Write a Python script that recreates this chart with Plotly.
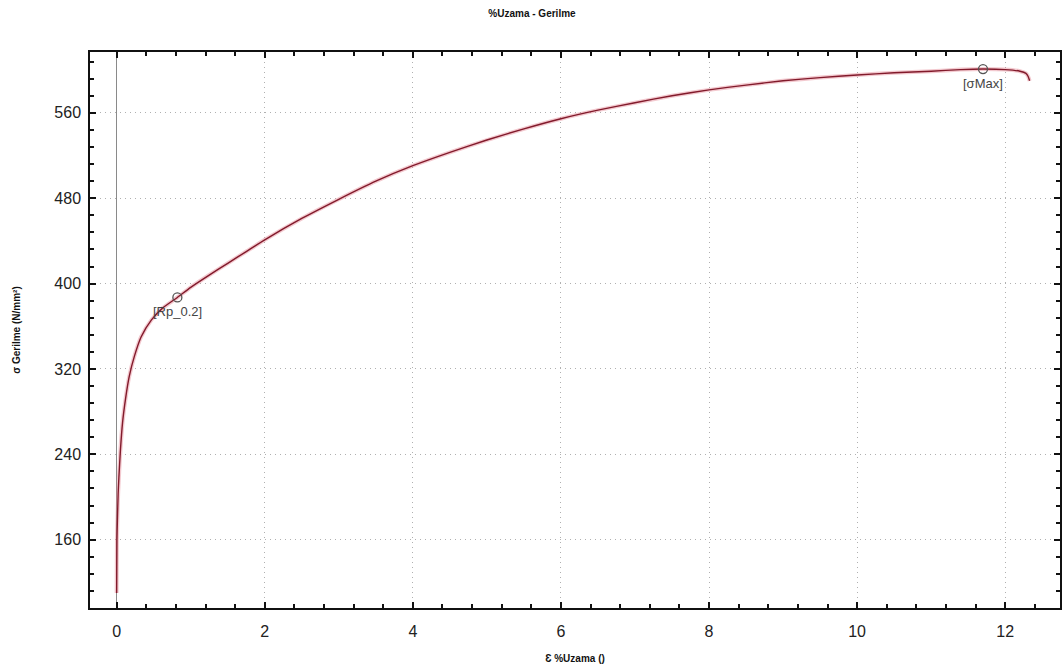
import plotly.graph_objects as go

# Strain (%) and stress (N/mm²)
strain = [0.0, 0.004, 0.01, 0.02, 0.03, 0.05, 0.08, 0.12, 0.17, 0.24, 0.33,
          0.47, 0.62, 0.82, 1.0, 1.25, 1.5, 1.75, 2.0, 2.5, 3.0, 3.5, 4.0,
          4.5, 5.0, 5.5, 6.0, 6.5, 7.0, 7.5, 8.0, 8.5, 9.0, 9.5, 10.0, 10.5,
          11.0, 11.4, 11.7, 12.0, 12.2, 12.28, 12.31, 12.33]
stress = [110, 160, 178, 203, 218, 243, 270, 292, 313, 332, 350,
          366, 377, 387, 396.5, 408, 419, 430, 441, 461, 479, 496, 510.5,
          523, 534.5, 545, 554.5, 562.5, 569.5, 576, 581.5, 586, 590, 593, 595.5, 597.5,
          599, 600.5, 601, 600.5, 599, 597, 594, 590]

point_names = ["[Rp_0.2]", "[σMax]"]
point_x = [0.82, 11.7]
point_y = [387, 601]

fig = go.Figure()
fig.add_trace(go.Scatter(x=strain, y=stress, mode="lines",
                         line=dict(color="rgba(225,120,135,0.4)", width=4, shape="spline", smoothing=0.6),
                         hoverinfo="skip", showlegend=False))
fig.add_trace(go.Scatter(x=strain, y=stress, mode="lines",
                         line=dict(color="#821a2b", width=1.4, shape="spline", smoothing=0.6),
                         showlegend=False))
fig.add_trace(go.Scatter(x=point_x, y=point_y, mode="markers",
                         marker=dict(symbol="circle-open", size=9, color="#555555",
                                     line=dict(width=1.3)),
                         showlegend=False))

for name, px, py in zip(point_names, point_x, point_y):
    fig.add_annotation(x=px, y=py, text=name, showarrow=False,
                       yshift=-14, xshift=0,
                       font=dict(family="Liberation Sans, Arial", size=13, color="#444444"))

axis_common = dict(showline=True, linecolor="#111111", linewidth=1.5, mirror="ticks",
                   ticks="inside", ticklen=6, tickcolor="#111111", tickwidth=1.5,
                   showgrid=True, gridcolor="#b0b0b0", griddash="1px,4px", gridwidth=1,
                   tickfont=dict(family="Liberation Sans, Arial", size=16, color="#222222"))

fig.update_xaxes(range=[-0.36, 12.74], dtick=2, tick0=0,
                 zeroline=True, zerolinecolor="#8a8a8a", zerolinewidth=1,
                 ticklabelstandoff=8,
                 minor=dict(dtick=0.4, ticks="inside", ticklen=4, tickcolor="#111111", showgrid=False),
                 title=dict(text="<b>Ɛ %Uzama ()</b>", standoff=16,
                            font=dict(family="Liberation Sans, Arial", size=10, color="#111111")),
                 **axis_common)
fig.update_yaxes(range=[96, 617], dtick=80, tick0=0, zeroline=False,
                 ticklabelstandoff=4,
                 minor=dict(dtick=16, ticks="inside", ticklen=4, tickcolor="#111111", showgrid=False),
                 title=dict(text="<b>σ Gerilme (N/mm²)</b>", standoff=32,
                            font=dict(family="Liberation Sans, Arial", size=10, color="#111111")),
                 **axis_common)

fig.update_layout(
    width=1064, height=670,
    margin=dict(l=90, r=2, t=52, b=62),
    paper_bgcolor="white", plot_bgcolor="white",
    title=dict(text="<b>%Uzama - Gerilme</b>", x=0.5, xanchor="center", y=0.985, yanchor="top",
               font=dict(family="Liberation Sans, Arial", size=10, color="#111111")),
)

fig.write_html("out.html")
